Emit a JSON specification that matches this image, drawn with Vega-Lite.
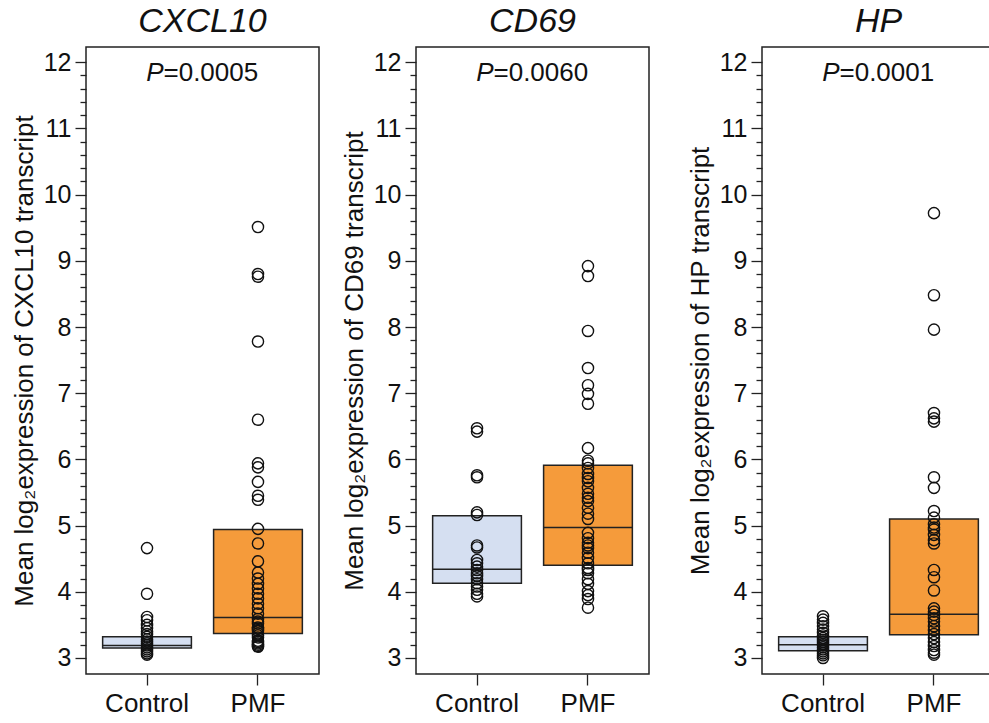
{
  "$schema": "https://vega.github.io/schema/vega-lite/v6.json",
  "background": "white",
  "padding": {"left": 10, "top": 4, "right": 0, "bottom": 0},
  "datasets": {
    "points": [
      {"gene":"CXCL10","group":"Control","value":4.66},{"gene":"CXCL10","group":"Control","value":3.97},{"gene":"CXCL10","group":"Control","value":3.62},{"gene":"CXCL10","group":"Control","value":3.57},{"gene":"CXCL10","group":"Control","value":3.50},{"gene":"CXCL10","group":"Control","value":3.45},{"gene":"CXCL10","group":"Control","value":3.40},{"gene":"CXCL10","group":"Control","value":3.36},{"gene":"CXCL10","group":"Control","value":3.32},{"gene":"CXCL10","group":"Control","value":3.28},{"gene":"CXCL10","group":"Control","value":3.25},{"gene":"CXCL10","group":"Control","value":3.22},{"gene":"CXCL10","group":"Control","value":3.19},{"gene":"CXCL10","group":"Control","value":3.16},{"gene":"CXCL10","group":"Control","value":3.13},{"gene":"CXCL10","group":"Control","value":3.10},{"gene":"CXCL10","group":"Control","value":3.07},{"gene":"CXCL10","group":"Control","value":3.05},
      {"gene":"CXCL10","group":"PMF","value":9.51},{"gene":"CXCL10","group":"PMF","value":8.80},{"gene":"CXCL10","group":"PMF","value":8.76},{"gene":"CXCL10","group":"PMF","value":7.78},{"gene":"CXCL10","group":"PMF","value":6.60},{"gene":"CXCL10","group":"PMF","value":5.94},{"gene":"CXCL10","group":"PMF","value":5.88},{"gene":"CXCL10","group":"PMF","value":5.66},{"gene":"CXCL10","group":"PMF","value":5.45},{"gene":"CXCL10","group":"PMF","value":5.39},{"gene":"CXCL10","group":"PMF","value":4.95},{"gene":"CXCL10","group":"PMF","value":4.73},{"gene":"CXCL10","group":"PMF","value":4.46},{"gene":"CXCL10","group":"PMF","value":4.29},{"gene":"CXCL10","group":"PMF","value":4.20},{"gene":"CXCL10","group":"PMF","value":4.12},{"gene":"CXCL10","group":"PMF","value":4.05},{"gene":"CXCL10","group":"PMF","value":3.97},{"gene":"CXCL10","group":"PMF","value":3.90},{"gene":"CXCL10","group":"PMF","value":3.82},{"gene":"CXCL10","group":"PMF","value":3.75},{"gene":"CXCL10","group":"PMF","value":3.67},{"gene":"CXCL10","group":"PMF","value":3.59},{"gene":"CXCL10","group":"PMF","value":3.55},{"gene":"CXCL10","group":"PMF","value":3.52},{"gene":"CXCL10","group":"PMF","value":3.46},{"gene":"CXCL10","group":"PMF","value":3.44},{"gene":"CXCL10","group":"PMF","value":3.41},{"gene":"CXCL10","group":"PMF","value":3.37},{"gene":"CXCL10","group":"PMF","value":3.34},{"gene":"CXCL10","group":"PMF","value":3.31},{"gene":"CXCL10","group":"PMF","value":3.26},{"gene":"CXCL10","group":"PMF","value":3.24},{"gene":"CXCL10","group":"PMF","value":3.22},{"gene":"CXCL10","group":"PMF","value":3.20},{"gene":"CXCL10","group":"PMF","value":3.18},{"gene":"CXCL10","group":"PMF","value":3.17},
      {"gene":"CD69","group":"Control","value":6.47},{"gene":"CD69","group":"Control","value":6.42},{"gene":"CD69","group":"Control","value":5.76},{"gene":"CD69","group":"Control","value":5.73},{"gene":"CD69","group":"Control","value":5.20},{"gene":"CD69","group":"Control","value":5.16},{"gene":"CD69","group":"Control","value":4.70},{"gene":"CD69","group":"Control","value":4.67},{"gene":"CD69","group":"Control","value":4.48},{"gene":"CD69","group":"Control","value":4.43},{"gene":"CD69","group":"Control","value":4.38},{"gene":"CD69","group":"Control","value":4.33},{"gene":"CD69","group":"Control","value":4.28},{"gene":"CD69","group":"Control","value":4.24},{"gene":"CD69","group":"Control","value":4.19},{"gene":"CD69","group":"Control","value":4.13},{"gene":"CD69","group":"Control","value":4.08},{"gene":"CD69","group":"Control","value":4.03},{"gene":"CD69","group":"Control","value":3.97},{"gene":"CD69","group":"Control","value":3.93},
      {"gene":"CD69","group":"PMF","value":8.92},{"gene":"CD69","group":"PMF","value":8.77},{"gene":"CD69","group":"PMF","value":7.94},{"gene":"CD69","group":"PMF","value":7.38},{"gene":"CD69","group":"PMF","value":7.12},{"gene":"CD69","group":"PMF","value":6.99},{"gene":"CD69","group":"PMF","value":6.84},{"gene":"CD69","group":"PMF","value":6.17},{"gene":"CD69","group":"PMF","value":5.98},{"gene":"CD69","group":"PMF","value":5.94},{"gene":"CD69","group":"PMF","value":5.87},{"gene":"CD69","group":"PMF","value":5.78},{"gene":"CD69","group":"PMF","value":5.72},{"gene":"CD69","group":"PMF","value":5.67},{"gene":"CD69","group":"PMF","value":5.57},{"gene":"CD69","group":"PMF","value":5.48},{"gene":"CD69","group":"PMF","value":5.42},{"gene":"CD69","group":"PMF","value":5.37},{"gene":"CD69","group":"PMF","value":5.27},{"gene":"CD69","group":"PMF","value":5.18},{"gene":"CD69","group":"PMF","value":5.10},{"gene":"CD69","group":"PMF","value":4.89},{"gene":"CD69","group":"PMF","value":4.81},{"gene":"CD69","group":"PMF","value":4.74},{"gene":"CD69","group":"PMF","value":4.70},{"gene":"CD69","group":"PMF","value":4.66},{"gene":"CD69","group":"PMF","value":4.59},{"gene":"CD69","group":"PMF","value":4.51},{"gene":"CD69","group":"PMF","value":4.43},{"gene":"CD69","group":"PMF","value":4.36},{"gene":"CD69","group":"PMF","value":4.33},{"gene":"CD69","group":"PMF","value":4.28},{"gene":"CD69","group":"PMF","value":4.19},{"gene":"CD69","group":"PMF","value":4.12},{"gene":"CD69","group":"PMF","value":4.01},{"gene":"CD69","group":"PMF","value":3.95},{"gene":"CD69","group":"PMF","value":3.89},{"gene":"CD69","group":"PMF","value":3.76},
      {"gene":"HP","group":"Control","value":3.63},{"gene":"HP","group":"Control","value":3.58},{"gene":"HP","group":"Control","value":3.53},{"gene":"HP","group":"Control","value":3.48},{"gene":"HP","group":"Control","value":3.43},{"gene":"HP","group":"Control","value":3.38},{"gene":"HP","group":"Control","value":3.34},{"gene":"HP","group":"Control","value":3.30},{"gene":"HP","group":"Control","value":3.27},{"gene":"HP","group":"Control","value":3.24},{"gene":"HP","group":"Control","value":3.21},{"gene":"HP","group":"Control","value":3.19},{"gene":"HP","group":"Control","value":3.16},{"gene":"HP","group":"Control","value":3.13},{"gene":"HP","group":"Control","value":3.10},{"gene":"HP","group":"Control","value":3.07},{"gene":"HP","group":"Control","value":3.04},{"gene":"HP","group":"Control","value":3.00},
      {"gene":"HP","group":"PMF","value":9.72},{"gene":"HP","group":"PMF","value":8.48},{"gene":"HP","group":"PMF","value":7.96},{"gene":"HP","group":"PMF","value":6.70},{"gene":"HP","group":"PMF","value":6.62},{"gene":"HP","group":"PMF","value":6.57},{"gene":"HP","group":"PMF","value":5.73},{"gene":"HP","group":"PMF","value":5.57},{"gene":"HP","group":"PMF","value":5.22},{"gene":"HP","group":"PMF","value":5.12},{"gene":"HP","group":"PMF","value":5.02},{"gene":"HP","group":"PMF","value":4.97},{"gene":"HP","group":"PMF","value":4.94},{"gene":"HP","group":"PMF","value":4.86},{"gene":"HP","group":"PMF","value":4.78},{"gene":"HP","group":"PMF","value":4.73},{"gene":"HP","group":"PMF","value":4.33},{"gene":"HP","group":"PMF","value":4.22},{"gene":"HP","group":"PMF","value":4.02},{"gene":"HP","group":"PMF","value":3.75},{"gene":"HP","group":"PMF","value":3.70},{"gene":"HP","group":"PMF","value":3.65},{"gene":"HP","group":"PMF","value":3.60},{"gene":"HP","group":"PMF","value":3.55},{"gene":"HP","group":"PMF","value":3.48},{"gene":"HP","group":"PMF","value":3.42},{"gene":"HP","group":"PMF","value":3.36},{"gene":"HP","group":"PMF","value":3.30},{"gene":"HP","group":"PMF","value":3.24},{"gene":"HP","group":"PMF","value":3.18},{"gene":"HP","group":"PMF","value":3.12},{"gene":"HP","group":"PMF","value":3.08},{"gene":"HP","group":"PMF","value":3.05}
    ],
    "boxes": [
      {"gene":"CXCL10","group":"Control","q1":3.15,"median":3.19,"q3":3.32},
      {"gene":"CXCL10","group":"PMF","q1":3.37,"median":3.61,"q3":4.94},
      {"gene":"CD69","group":"Control","q1":4.13,"median":4.34,"q3":5.15},
      {"gene":"CD69","group":"PMF","q1":4.40,"median":4.97,"q3":5.91},
      {"gene":"HP","group":"Control","q1":3.11,"median":3.20,"q3":3.32},
      {"gene":"HP","group":"PMF","q1":3.35,"median":3.66,"q3":5.10}
    ],
    "pvals": [
      {"gene":"CXCL10","rest":"=0.0005","y":11.83},
      {"gene":"CD69","rest":"=0.0060","y":11.83},
      {"gene":"HP","rest":"=0.0001","y":11.83}
    ]
  },
  "config": {
    "font": "Liberation Sans",
    "view": {"stroke": "#222222", "strokeWidth": 1.5},
    "axis": {"grid": false, "domain": false, "tickColor": "#222222", "tickWidth": 1.3, "labelColor": "#111111", "labelFont": "Liberation Sans", "titleFont": "Liberation Sans", "titleFontWeight": "normal", "titleColor": "#111111"},
    "title": {"font": "Liberation Sans", "fontSize": 34, "fontStyle": "italic", "fontWeight": "normal", "color": "#111111", "offset": 8}
  },
  "spacing": 36,
  "hconcat": [
    {
      "spacing": 20,
      "hconcat": [
        {
          "width": 233, "height": 627,
          "title": "CXCL10",
          "resolve": {"axis": {"y": "independent"}},
          "layer": [
            {"data": {"name": "boxes"}, "transform": [{"filter": "datum.gene === 'CXCL10'"}],
             "mark": {"type": "bar", "stroke": "#222222", "strokeWidth": 1.5, "opacity": 1},
             "encoding": {
               "x": {"field": "group", "type": "nominal", "sort": ["Control", "PMF"], "scale": {"paddingInner": 0.2, "paddingOuter": 0.15}, "axis": {"title": null, "labelAngle": 0, "labelFontSize": 26, "tickSize": 11, "labelPadding": 5, "ticks": true}},
               "y": {"field": "q1", "type": "quantitative", "scale": {"domain": [2.758, 12.23], "nice": false, "zero": false}, "axis": {"orient": "left", "values": [3,4,5,6,7,8,9,10,11,12], "tickSize": 11, "labelFontSize": 25, "labelPadding": 4, "title": "Mean log₂expression of CXCL10 transcript", "titleFontSize": 26, "titlePadding": 6}},
               "y2": {"field": "q3"},
               "color": {"field": "group", "type": "nominal", "scale": {"domain": ["Control", "PMF"], "range": ["#d5dff1", "#f59b3b"]}, "legend": null}
             }},
            {"data": {"name": "boxes"}, "transform": [{"filter": "datum.gene === 'CXCL10'"}],
             "mark": {"type": "tick", "color": "#222222", "opacity": 1, "thickness": 1.5, "size": 89},
             "encoding": {
               "x": {"field": "group", "type": "nominal", "sort": ["Control", "PMF"], "scale": {"paddingInner": 0.2, "paddingOuter": 0.15}, "axis": {"title": null, "labelAngle": 0, "labelFontSize": 26, "tickSize": 11, "labelPadding": 5, "ticks": true}},
               "y": {"field": "median", "type": "quantitative", "scale": {"domain": [2.758, 12.23], "nice": false, "zero": false}, "axis": null}
             }},
            {"data": {"name": "points"}, "transform": [{"filter": "datum.gene === 'CXCL10'"}],
             "mark": {"type": "point", "shape": "circle", "filled": false, "stroke": "#111111", "strokeWidth": 1.4, "size": 125, "opacity": 1},
             "encoding": {
               "x": {"field": "group", "type": "nominal", "sort": ["Control", "PMF"], "scale": {"paddingInner": 0.2, "paddingOuter": 0.15}, "axis": {"title": null, "labelAngle": 0, "labelFontSize": 26, "tickSize": 11, "labelPadding": 5, "ticks": true}},
               "y": {"field": "value", "type": "quantitative", "scale": {"domain": [2.758, 12.23], "nice": false, "zero": false}, "axis": {"orient": "left", "values": [3.2,3.4,3.6,3.8,4.2,4.4,4.6,4.8,5.2,5.4,5.6,5.8,6.2,6.4,6.6,6.8,7.2,7.4,7.6,7.8,8.2,8.4,8.6,8.8,9.2,9.4,9.6,9.8,10.2,10.4,10.6,10.8,11.2,11.4,11.6,11.8], "labels": false, "tickSize": 6, "title": null}}
             }},
            {"data": {"name": "pvals"}, "transform": [{"filter": "datum.gene === 'CXCL10'"}],
             "mark": {"type": "text", "fontStyle": "italic", "fontSize": 26, "align": "right", "baseline": "middle", "dx": -39, "color": "#111111"},
             "encoding": {
               "y": {"field": "y", "type": "quantitative", "scale": {"domain": [2.758, 12.23], "nice": false, "zero": false}, "axis": null},
               "text": {"value": "P"}
             }},
            {"data": {"name": "pvals"}, "transform": [{"filter": "datum.gene === 'CXCL10'"}],
             "mark": {"type": "text", "fontSize": 26, "align": "left", "baseline": "middle", "dx": -39, "color": "#111111"},
             "encoding": {
               "y": {"field": "y", "type": "quantitative", "scale": {"domain": [2.758, 12.23], "nice": false, "zero": false}, "axis": null},
               "text": {"field": "rest"}
             }}
          ]
        },
        {
          "width": 233, "height": 627,
          "title": "CD69",
          "resolve": {"axis": {"y": "independent"}},
          "layer": [
            {"data": {"name": "boxes"}, "transform": [{"filter": "datum.gene === 'CD69'"}],
             "mark": {"type": "bar", "stroke": "#222222", "strokeWidth": 1.5, "opacity": 1},
             "encoding": {
               "x": {"field": "group", "type": "nominal", "sort": ["Control", "PMF"], "scale": {"paddingInner": 0.2, "paddingOuter": 0.15}, "axis": {"title": null, "labelAngle": 0, "labelFontSize": 26, "tickSize": 11, "labelPadding": 5, "ticks": true}},
               "y": {"field": "q1", "type": "quantitative", "scale": {"domain": [2.758, 12.23], "nice": false, "zero": false}, "axis": {"orient": "left", "values": [3,4,5,6,7,8,9,10,11,12], "tickSize": 11, "labelFontSize": 25, "labelPadding": 4, "title": "Mean log₂expression of CD69 transcript", "titleFontSize": 26, "titlePadding": 6}},
               "y2": {"field": "q3"},
               "color": {"field": "group", "type": "nominal", "scale": {"domain": ["Control", "PMF"], "range": ["#d5dff1", "#f59b3b"]}, "legend": null}
             }},
            {"data": {"name": "boxes"}, "transform": [{"filter": "datum.gene === 'CD69'"}],
             "mark": {"type": "tick", "color": "#222222", "opacity": 1, "thickness": 1.5, "size": 89},
             "encoding": {
               "x": {"field": "group", "type": "nominal", "sort": ["Control", "PMF"], "scale": {"paddingInner": 0.2, "paddingOuter": 0.15}, "axis": {"title": null, "labelAngle": 0, "labelFontSize": 26, "tickSize": 11, "labelPadding": 5, "ticks": true}},
               "y": {"field": "median", "type": "quantitative", "scale": {"domain": [2.758, 12.23], "nice": false, "zero": false}, "axis": null}
             }},
            {"data": {"name": "points"}, "transform": [{"filter": "datum.gene === 'CD69'"}],
             "mark": {"type": "point", "shape": "circle", "filled": false, "stroke": "#111111", "strokeWidth": 1.4, "size": 125, "opacity": 1},
             "encoding": {
               "x": {"field": "group", "type": "nominal", "sort": ["Control", "PMF"], "scale": {"paddingInner": 0.2, "paddingOuter": 0.15}, "axis": {"title": null, "labelAngle": 0, "labelFontSize": 26, "tickSize": 11, "labelPadding": 5, "ticks": true}},
               "y": {"field": "value", "type": "quantitative", "scale": {"domain": [2.758, 12.23], "nice": false, "zero": false}, "axis": {"orient": "left", "values": [3.2,3.4,3.6,3.8,4.2,4.4,4.6,4.8,5.2,5.4,5.6,5.8,6.2,6.4,6.6,6.8,7.2,7.4,7.6,7.8,8.2,8.4,8.6,8.8,9.2,9.4,9.6,9.8,10.2,10.4,10.6,10.8,11.2,11.4,11.6,11.8], "labels": false, "tickSize": 6, "title": null}}
             }},
            {"data": {"name": "pvals"}, "transform": [{"filter": "datum.gene === 'CD69'"}],
             "mark": {"type": "text", "fontStyle": "italic", "fontSize": 26, "align": "right", "baseline": "middle", "dx": -39, "color": "#111111"},
             "encoding": {
               "y": {"field": "y", "type": "quantitative", "scale": {"domain": [2.758, 12.23], "nice": false, "zero": false}, "axis": null},
               "text": {"value": "P"}
             }},
            {"data": {"name": "pvals"}, "transform": [{"filter": "datum.gene === 'CD69'"}],
             "mark": {"type": "text", "fontSize": 26, "align": "left", "baseline": "middle", "dx": -39, "color": "#111111"},
             "encoding": {
               "y": {"field": "y", "type": "quantitative", "scale": {"domain": [2.758, 12.23], "nice": false, "zero": false}, "axis": null},
               "text": {"field": "rest"}
             }}
          ]
        }
      ]
    },
    {
      "width": 233, "height": 627,
      "title": "HP",
      "resolve": {"axis": {"y": "independent"}},
      "layer": [
        {"data": {"name": "boxes"}, "transform": [{"filter": "datum.gene === 'HP'"}],
         "mark": {"type": "bar", "stroke": "#222222", "strokeWidth": 1.5, "opacity": 1},
         "encoding": {
           "x": {"field": "group", "type": "nominal", "sort": ["Control", "PMF"], "scale": {"paddingInner": 0.2, "paddingOuter": 0.15}, "axis": {"title": null, "labelAngle": 0, "labelFontSize": 26, "tickSize": 11, "labelPadding": 5, "ticks": true}},
           "y": {"field": "q1", "type": "quantitative", "scale": {"domain": [2.758, 12.23], "nice": false, "zero": false}, "axis": {"orient": "left", "values": [3,4,5,6,7,8,9,10,11,12], "tickSize": 11, "labelFontSize": 25, "labelPadding": 4, "title": "Mean log₂expression of HP transcript", "titleFontSize": 26, "titlePadding": 6}},
           "y2": {"field": "q3"},
           "color": {"field": "group", "type": "nominal", "scale": {"domain": ["Control", "PMF"], "range": ["#d5dff1", "#f59b3b"]}, "legend": null}
         }},
        {"data": {"name": "boxes"}, "transform": [{"filter": "datum.gene === 'HP'"}],
         "mark": {"type": "tick", "color": "#222222", "opacity": 1, "thickness": 1.5, "size": 89},
         "encoding": {
           "x": {"field": "group", "type": "nominal", "sort": ["Control", "PMF"], "scale": {"paddingInner": 0.2, "paddingOuter": 0.15}, "axis": {"title": null, "labelAngle": 0, "labelFontSize": 26, "tickSize": 11, "labelPadding": 5, "ticks": true}},
           "y": {"field": "median", "type": "quantitative", "scale": {"domain": [2.758, 12.23], "nice": false, "zero": false}, "axis": null}
         }},
        {"data": {"name": "points"}, "transform": [{"filter": "datum.gene === 'HP'"}],
         "mark": {"type": "point", "shape": "circle", "filled": false, "stroke": "#111111", "strokeWidth": 1.4, "size": 125, "opacity": 1},
         "encoding": {
           "x": {"field": "group", "type": "nominal", "sort": ["Control", "PMF"], "scale": {"paddingInner": 0.2, "paddingOuter": 0.15}, "axis": {"title": null, "labelAngle": 0, "labelFontSize": 26, "tickSize": 11, "labelPadding": 5, "ticks": true}},
           "y": {"field": "value", "type": "quantitative", "scale": {"domain": [2.758, 12.23], "nice": false, "zero": false}, "axis": {"orient": "left", "values": [3.2,3.4,3.6,3.8,4.2,4.4,4.6,4.8,5.2,5.4,5.6,5.8,6.2,6.4,6.6,6.8,7.2,7.4,7.6,7.8,8.2,8.4,8.6,8.8,9.2,9.4,9.6,9.8,10.2,10.4,10.6,10.8,11.2,11.4,11.6,11.8], "labels": false, "tickSize": 6, "title": null}}
         }},
        {"data": {"name": "pvals"}, "transform": [{"filter": "datum.gene === 'HP'"}],
         "mark": {"type": "text", "fontStyle": "italic", "fontSize": 26, "align": "right", "baseline": "middle", "dx": -39, "color": "#111111"},
         "encoding": {
           "y": {"field": "y", "type": "quantitative", "scale": {"domain": [2.758, 12.23], "nice": false, "zero": false}, "axis": null},
           "text": {"value": "P"}
         }},
        {"data": {"name": "pvals"}, "transform": [{"filter": "datum.gene === 'HP'"}],
         "mark": {"type": "text", "fontSize": 26, "align": "left", "baseline": "middle", "dx": -39, "color": "#111111"},
         "encoding": {
           "y": {"field": "y", "type": "quantitative", "scale": {"domain": [2.758, 12.23], "nice": false, "zero": false}, "axis": null},
           "text": {"field": "rest"}
         }}
      ]
    }
  ]
}
